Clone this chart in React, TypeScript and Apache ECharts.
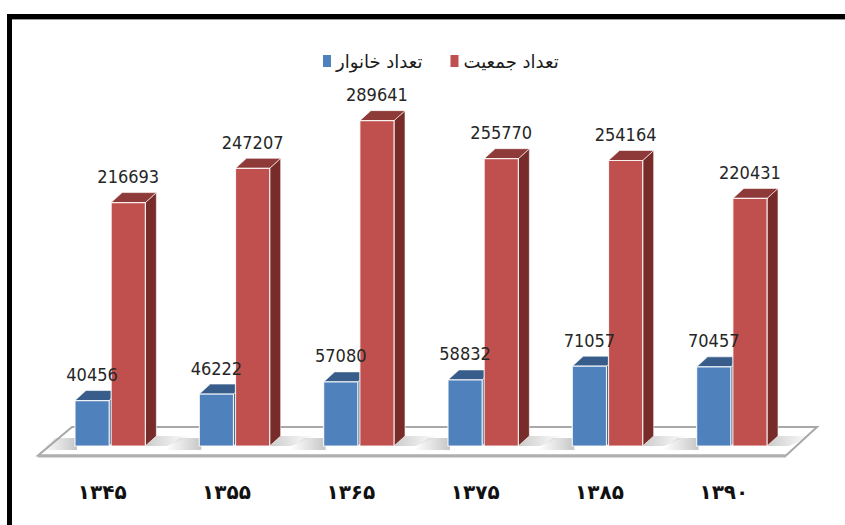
import React, { useEffect, useRef } from "react";
import * as echarts from "echarts";

const categories = ["۱۳۴۵", "۱۳۵۵", "۱۳۶۵", "۱۳۷۵", "۱۳۸۵", "۱۳۹۰"];
const householdName = "تعداد خانوار";
const populationName = "تعداد جمعیت";
const households = [40456, 46222, 57080, 58832, 71057, 70457];
const population = [216693, 247207, 289641, 255770, 254164, 220431];

const BLUE = { front: "#4F81BD", top: "#385D8A", side: "#2F4F77" };
const RED = { front: "#C0504D", top: "#8E3A38", side: "#772C2A" };
const DX = 11;
const DY = -10;
const LABEL_FONT = "'DejaVu Sans Condensed', 'Liberation Sans Narrow', sans-serif";

function geom(api: any, i: number, v: number, isLeft: boolean) {
  const base = api.coord([i, 0]);
  const top = api.coord([i, v]);
  const bandW = api.size([1, 0])[0];
  const w = bandW * 0.275;
  const x0 = isLeft ? base[0] - w - 1 : base[0] + 1;
  return { x0, w, y0: top[1], yb: base[1] };
}

function makeRender(isLeft: boolean, col: { front: string; top: string; side: string }) {
  return (params: any, api: any) => {
    const i = api.value(0);
    const v = api.value(1);
    const { x0, w, y0, yb } = geom(api, i, v, isLeft);
    const children: any[] = [];
    if (isLeft) {
      children.push({
        type: "polygon",
        shape: {
          points: [
            [x0 - 34, yb + 4],
            [x0 + 2, yb + 4],
            [x0 + 2, yb - 8],
            [x0 - 20, yb - 8],
          ],
        },
        style: {
          fill: new echarts.graphic.LinearGradient(0, 0, 1, 0, [
            { offset: 0, color: "rgba(160,160,160,0)" },
            { offset: 1, color: "rgba(150,150,150,0.55)" },
          ]),
        },
        silent: true,
      });
    } else {
      children.push({
        type: "polygon",
        shape: {
          points: [
            [x0 + w, yb],
            [x0 + w + DX, yb + DY],
            [x0 + w + DX + 34, yb + DY],
            [x0 + w + 22, yb],
          ],
        },
        style: {
          fill: new echarts.graphic.LinearGradient(0, 0, 1, 0, [
            { offset: 0, color: "rgba(150,150,150,0.5)" },
            { offset: 1, color: "rgba(160,160,160,0)" },
          ]),
        },
        silent: true,
      });
    }
    children.push(
      {
        type: "polygon",
        shape: {
          points: [
            [x0 + w, y0],
            [x0 + w + DX, y0 + DY],
            [x0 + w + DX, yb + DY],
            [x0 + w, yb],
          ],
        },
        style: { fill: col.side, stroke: "rgba(255,255,255,0.6)", lineWidth: 1 },
      },
      {
        type: "polygon",
        shape: {
          points: [
            [x0, y0],
            [x0 + w, y0],
            [x0 + w + DX, y0 + DY],
            [x0 + DX, y0 + DY],
          ],
        },
        style: { fill: col.top, stroke: "rgba(255,255,255,0.6)", lineWidth: 1 },
      },
      {
        type: "rect",
        shape: { x: x0, y: y0, width: w, height: yb - y0 },
        style: { fill: col.front, stroke: "rgba(255,255,255,0.85)", lineWidth: 1.2 },
      }
    );
    return { type: "group", children };
  };
}

function renderLabels(params: any, api: any) {
  const i = api.value(0);
  const children: any[] = [];
  [
    { v: api.value(1), left: true },
    { v: api.value(2), left: false },
  ].forEach(({ v, left }) => {
    const { x0, w, y0 } = geom(api, i, v, left);
    children.push({
      type: "text",
      x: x0 + w / 2,
      y: y0 + DY - 7,
      style: {
        text: String(v),
        align: "center",
        verticalAlign: "bottom",
        fontSize: 18,
        fontFamily: LABEL_FONT,
        fill: "#262626",
      },
    });
  });
  return { type: "group", children };
}

export default function App() {
  const ref = useRef<HTMLDivElement>(null);
  useEffect(() => {
    if (!ref.current) return;
    const chart = echarts.init(ref.current, null, { renderer: "svg" });
    const option: any = {
      animation: false,
      backgroundColor: "#ffffff",
      graphic: [
        {
          type: "rect",
          shape: { x: 9.5, y: 16.5, width: 900, height: 600 },
          style: { fill: "none", stroke: "#000000", lineWidth: 5 },
          z: 100,
        },
        {
          type: "line",
          shape: { x1: 12, y1: 19.5, x2: 845, y2: 19.5 },
          style: { stroke: "#9a9a9a", lineWidth: 1 },
          z: 99,
        },
        {
          type: "polygon",
          shape: {
            points: [
              [38, 455.5],
              [786, 455.5],
              [817, 427],
              [72, 427],
            ],
          },
          style: { fill: "#ffffff", stroke: "#a8a8a8", lineWidth: 2 },
          z: -1,
        },
        {
          type: "line",
          shape: { x1: 38, y1: 456, x2: 786, y2: 456 },
          style: { stroke: "#b0b0b0", lineWidth: 3 },
          z: -1,
        },
      ],
      legend: {
        left: 318,
        top: 47,
        itemWidth: 8,
        itemHeight: 12,
        itemGap: 28,
        icon: "rect",
        data: [householdName, populationName],
        textStyle: { fontFamily: "'DejaVu Sans', sans-serif", fontSize: 18, color: "#1a1a1a" },
      },
      grid: { left: 48, right: 51, top: 109, bottom: 79 },
      xAxis: {
        type: "category",
        data: categories,
        axisLine: { show: false },
        axisTick: { show: false },
        axisLabel: {
          margin: 36,
          padding: [0, 16, 0, 0],
          fontSize: 20,
          fontWeight: "bold",
          fontFamily: "'DejaVu Sans', sans-serif",
          color: "#111",
        },
      },
      yAxis: {
        type: "value",
        min: 0,
        max: 300000,
        show: false,
        splitLine: { show: false },
      },
      series: [
        {
          type: "custom",
          name: householdName,
          itemStyle: { color: BLUE.front },
          renderItem: makeRender(true, BLUE),
          data: households.map((v, i) => [i, v]),
          encode: { x: 0, y: 1 },
          z: 2,
        },
        {
          type: "custom",
          name: populationName,
          itemStyle: { color: RED.front },
          renderItem: makeRender(false, RED),
          data: population.map((v, i) => [i, v]),
          encode: { x: 0, y: 1 },
          z: 3,
        },
        {
          type: "custom",
          name: "labels",
          renderItem: renderLabels,
          data: households.map((v, i) => [i, v, population[i]]),
          encode: { x: 0, y: [1, 2] },
          z: 4,
          silent: true,
        },
      ],
    };
    chart.setOption(option);
    return () => chart.dispose();
  }, []);
  return (
    <div
      ref={ref}
      style={{ position: "fixed", left: 0, top: 0, width: 845, height: 525 }}
    />
  );
}
